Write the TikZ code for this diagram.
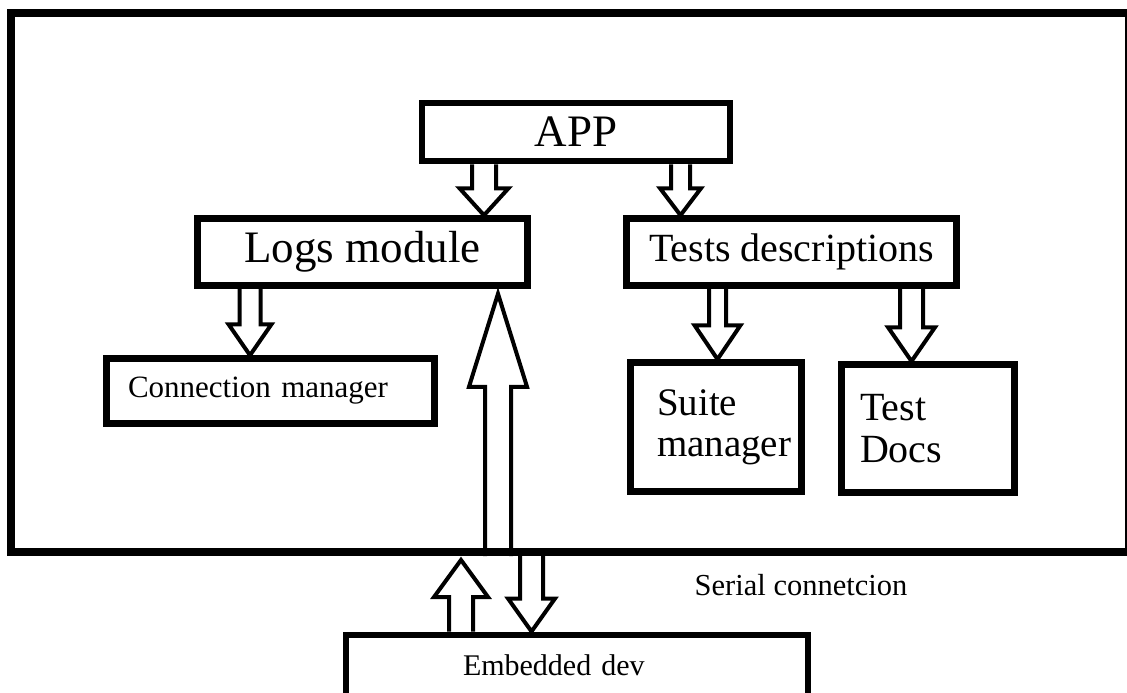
\documentclass[tikz,border=0pt]{standalone}
\usepackage{fontspec}
\setmainfont{Liberation Serif}
\usetikzlibrary{calc}

% x of the arrow, from, to, half shaft, half head, head length
\newcommand\fatarrow[6]{%
  \draw[fat line] let \p1=(#2), \p2=(#3), \p3=($(0pt,\y2)!#6pt!(0pt,\y1)$) in
    ({#1pt-#4pt},\y1) -- ({#1pt-#4pt},\y3) -- ({#1pt-#5pt},\y3) -- (#1pt,\y2)
    -- ({#1pt+#5pt},\y3) -- ({#1pt+#4pt},\y3) -- ({#1pt+#4pt},\y1);}

\begin{document}
\begin{tikzpicture}[x=1pt,y=-1pt,
  frame node/.style={rectangle,draw,line width=8pt,inner sep=0pt},
  main node/.style={rectangle,draw,line width=6.5pt,inner sep=0pt,align=center},
  side node/.style={rectangle,draw,line width=6.5pt,inner sep=0pt,align=left},
  fat line/.style={line width=4pt,line join=miter}]
  \useasboundingbox (0,0) rectangle (1127,693);

  \node[frame node,minimum width=1118pt,minimum height=539pt] (sys) at (570,282.5) {};
  \node[main node,minimum width=308pt,minimum height=58pt,
    font=\fontsize{45}{50}\selectfont] (app) at (576,132) {APP};
  \node[main node,minimum width=330pt,minimum height=67pt,
    font=\fontsize{45}{50}\selectfont] (logs) at (362.5,252) {Logs module};
  \node[main node,minimum width=330pt,minimum height=67pt,
    font=\fontsize{40}{44}\selectfont] (tests) at (791.5,252) {Tests descriptions};
  \node[side node,minimum width=328pt,minimum height=65pt,text width=285pt,
    font=\fontsize{31}{34}\selectfont] (conn) at (270.5,391) {Connection manager};
  \node[side node,minimum width=171pt,minimum height=129pt,text width=118pt,
    font=\fontsize{39}{41}\selectfont] (suite) at (716,427) {Suite\\manager};
  \node[side node,minimum width=173pt,minimum height=128pt,text width=136pt,
    font=\fontsize{40}{42}\selectfont] (docs) at (928,428.5) {Test\\Docs};
  \node[side node,minimum width=462pt,text width=228pt,anchor=north,
    text height=40.5pt,text depth=39pt,
    font=\fontsize{30}{33}\selectfont] (dev) at (577,631.5) {Embedded dev};
  \node[font=\fontsize{30.5}{33}\selectfont] (serial) at (801,585) {Serial connetcion};

  \fatarrow{484}{app.south}{logs.north}{12}{24.5}{27}
  \fatarrow{680.5}{app.south}{tests.north}{9.5}{20.5}{27}
  \fatarrow{250}{logs.south}{conn.north}{10.5}{21.5}{31}
  \fatarrow{717.5}{tests.south}{suite.north}{8.5}{23}{34}
  \fatarrow{911.5}{tests.south}{docs.north}{11.5}{23.5}{34}
  \fatarrow{498}{sys.south}{$(logs.south)+(0,5)$}{13}{29}{93}
  \fatarrow{461}{dev.north}{$(sys.south)+(0,4)$}{12}{27}{37}
  \fatarrow{531.5}{sys.south}{dev.north}{11.5}{23.5}{33}
%  \fatarrow{...}{dev.north}{serial.west}{...}
\end{tikzpicture}
\end{document}
